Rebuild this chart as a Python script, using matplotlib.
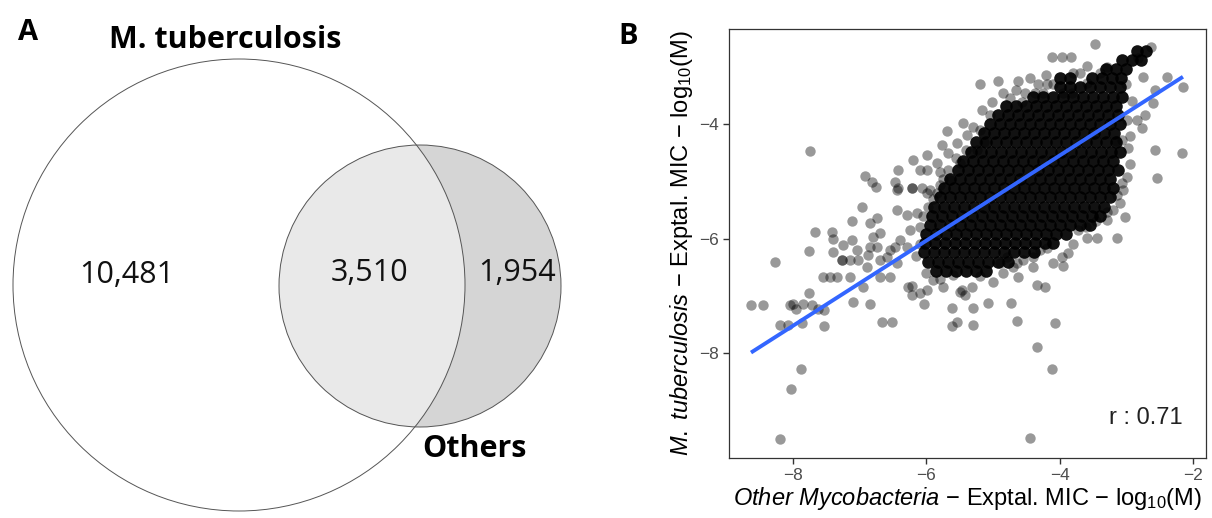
import matplotlib
matplotlib.use('Agg')
import matplotlib.pyplot as plt
from matplotlib.patches import Circle
import numpy as np

# panel A: venn counts
venn_counts = [10481, 3510, 1954]
venn_sets = ['M. tuberculosis', 'Others']

# panel B: scattered compounds (log10 MIC, other mycobacteria vs M. tuberculosis)
pts_x = [-8.63, -8.45, -8.04, -8.00, -7.95, -7.85, -7.72, -7.62, -7.53,
         -8.19, -8.07, -7.87, -7.53, -8.27, -7.76, -7.88, -8.03, -8.19, -7.74,
         -7.76, -7.67, -7.42, -7.40, -7.40, -7.27, -7.27, -7.15, -7.03, -6.88,
         -7.12, -6.97, -6.85, -6.74, -7.25, -7.12, -7.04, -6.80, -6.70, -6.85, -6.74,
         -7.55, -7.45, -7.34, -7.15, -6.70, -6.55, -6.95, -6.89,
         -7.10, -6.85, -6.67, -6.52,
         -6.55, -6.47, -6.29, -6.59, -6.70, -6.44,
         -6.28, -6.22, -6.10, -5.99, -5.90, -5.75, -5.60, -5.47, -5.42, -5.32, -6.04, -6.22,
         -5.62, -5.62, -5.54, -5.50, -5.30, -5.30, -5.08, -4.73, -4.64, -4.34, -4.22,
         -4.07, -4.34, -4.12, -4.45,
         -6.44, -6.29, -6.14, -5.98, -5.84, -5.99, -6.22, -6.44, -6.10, -6.25, -6.40,
         -5.20, -4.93, -5.02, -5.17, -5.45, -5.30, -5.69, -5.39, -5.54, -5.14, -5.77,
         -5.24, -5.68, -5.99, -6.20, -6.43, -6.10, -5.99, -5.84, -5.80, -5.68, -5.50,
         -6.92, -6.82, -6.76, -6.47, -6.43, -6.22, -6.07, -5.95, -5.80, -5.65,
         -3.47, -2.63, -4.12, -3.97, -3.83, -3.59, -3.70, -3.29, -2.83, -2.75, -2.39,
         -2.15, -4.63, -4.33, -4.19, -4.10, -4.52, -4.37, -4.25, -3.95, -3.82, -3.59,
         -4.57, -2.57, -2.60, -2.72, -2.84, -2.77, -2.99, -3.07, -2.98, -2.57, -2.17,
         -2.54, -2.99,
         -3.07, -3.14, -3.10, -3.02, -3.14, -3.29, -3.29, -3.44, -3.59, -3.73, -3.88,
         -3.97, -4.10, -3.95, -4.19, -4.30, -4.40, -4.55, -4.64, -4.70, -4.63, -4.79,
         -4.90, -3.16,
         -4.85, -4.75, -5.05, -5.20, -5.40, -5.55, -5.75, -5.90, -6.05, -6.10, -6.15,
         -6.00, -5.80, -5.20, -5.00, -4.85, -4.40, -3.80, -3.60, -3.45, -3.20, -3.05,
         -2.95, -2.95, -2.92, -3.00, -3.40, -3.80, -4.20, -4.45, -4.65]
pts_y = [-7.16, -7.16, -7.16, -7.14, -7.22, -7.14, -7.16, -7.22, -7.25,
         -7.50, -7.50, -7.47, -7.53, -6.41, -6.95, -8.28, -8.62, -9.50, -4.47,
         -6.22, -5.88, -5.88, -6.01, -6.23, -6.37, -6.37, -6.37, -6.37, -6.29,
         -5.69, -5.45, -5.73, -5.64, -6.11, -6.02, -6.20, -5.97, -5.90, -6.15, -6.15,
         -6.67, -6.67, -6.67, -6.67, -6.67, -6.67, -6.84, -6.50,
         -7.11, -7.14, -7.46, -7.46,
         -6.20, -6.15, -6.15, -6.32, -6.37, -6.43,
         -6.84, -6.98, -6.95, -6.90, -6.72, -6.84, -6.64, -6.90, -6.98, -6.84, -7.14, -6.83,
         -7.21, -7.52, -7.46, -6.93, -7.21, -7.51, -7.12, -7.12, -7.44, -6.81, -6.84,
         -7.47, -7.89, -8.28, -9.48,
         -5.50, -5.59, -5.55, -5.45, -5.20, -5.20, -5.12, -5.15, -5.80, -5.85, -6.02,
         -3.30, -3.25, -3.62, -3.76, -3.98, -4.05, -4.12, -4.19, -4.33, -4.31, -4.37,
         -4.45, -4.51, -4.54, -4.63, -4.80, -4.80, -4.80, -4.68, -4.84, -4.80, -4.68,
         -4.91, -5.01, -5.10, -5.01, -5.12, -5.12, -5.12, -5.15, -5.06, -4.98,
         -2.60, -2.66, -2.83, -2.83, -2.83, -2.99, -3.11, -3.00, -2.85, -3.18, -3.18,
         -3.35, -3.25, -3.30, -3.30, -3.30, -3.46, -3.46, -3.46, -3.46, -3.46, -3.28,
         -3.62, -3.41, -3.63, -3.84, -3.93, -4.07, -3.93, -4.28, -4.42, -4.45, -4.51,
         -4.94, -4.92,
         -5.03, -5.24, -5.38, -5.62, -5.99, -5.54, -5.68, -5.99, -5.99, -5.85, -6.25,
         -6.32, -6.43, -6.48, -6.16, -6.20, -6.32, -6.37, -6.43, -6.50, -6.67, -6.32,
         -6.43, -4.30,
         -3.45, -3.55, -3.85, -4.10, -4.45, -4.60, -4.95, -5.30, -5.60, -6.10, -6.30,
         -6.60, -6.70, -6.65, -6.75, -6.60, -6.50, -6.10, -5.80, -5.70, -5.50, -5.15,
         -4.70, -4.20, -3.60, -3.30, -3.10, -3.10, -3.15, -3.20, -3.40]

# dense core of the cloud, read row by row (y level, x positions)
core_y = [-2.72, -2.88, -3.04, -3.20, -3.36, -3.52, -3.68, -3.84, -4.00, -4.16,
          -4.32, -4.48, -4.64, -4.80, -4.96, -5.12, -5.28, -5.44, -5.60, -5.76,
          -5.92, -6.08, -6.24, -6.40, -6.56]
core_x = [
    [-2.84, -2.70],
    [-3.06, -2.92, -2.78],
    [-3.30, -3.15, -3.00],
    [-4.00, -3.85, -3.52, -3.37, -3.22, -3.08],
    [-4.00, -3.85, -3.70, -3.55, -3.40, -3.25, -3.10],
    [-4.40, -4.25, -4.10, -3.95, -3.80, -3.65, -3.50, -3.35, -3.20, -3.07],
    [-4.80, -4.65, -4.50, -4.35, -4.20, -4.05, -3.90, -3.75, -3.60, -3.45, -3.30, -3.15],
    [-4.93, -4.78, -4.63, -4.48, -4.33, -4.18, -4.03, -3.88, -3.73, -3.58, -3.43, -3.28, -3.13],
    [-5.05, -4.90, -4.75, -4.60, -4.45, -4.30, -4.15, -4.00, -3.85, -3.70, -3.55, -3.40, -3.25, -3.10],
    [-5.13, -4.98, -4.83, -4.68, -4.53, -4.38, -4.23, -4.08, -3.93, -3.78, -3.63, -3.48, -3.33, -3.18],
    [-5.25, -5.10, -4.95, -4.80, -4.65, -4.50, -4.35, -4.20, -4.05, -3.90, -3.75, -3.60, -3.45, -3.30, -3.15],
    [-5.33, -5.18, -5.03, -4.88, -4.73, -4.58, -4.43, -4.28, -4.13, -3.98, -3.83, -3.68, -3.53, -3.38, -3.23, -3.10],
    [-5.45, -5.30, -5.15, -5.00, -4.85, -4.70, -4.55, -4.40, -4.25, -4.10, -3.95, -3.80, -3.65, -3.50, -3.35, -3.20],
    [-5.53, -5.38, -5.23, -5.08, -4.93, -4.78, -4.63, -4.48, -4.33, -4.18, -4.03, -3.88, -3.73, -3.58, -3.43, -3.28, -3.13],
    [-5.65, -5.50, -5.35, -5.20, -5.05, -4.90, -4.75, -4.60, -4.45, -4.30, -4.15, -4.00, -3.85, -3.70, -3.55, -3.40, -3.25],
    [-5.73, -5.58, -5.43, -5.28, -5.13, -4.98, -4.83, -4.68, -4.53, -4.38, -4.23, -4.08, -3.93, -3.78, -3.63, -3.48, -3.33, -3.20],
    [-5.80, -5.65, -5.50, -5.35, -5.20, -5.05, -4.90, -4.75, -4.60, -4.45, -4.30, -4.15, -4.00, -3.85, -3.70, -3.55, -3.40, -3.25],
    [-5.88, -5.73, -5.58, -5.43, -5.28, -5.13, -4.98, -4.83, -4.68, -4.53, -4.38, -4.23, -4.08, -3.93, -3.78, -3.63, -3.48, -3.33],
    [-5.92, -5.77, -5.62, -5.47, -5.32, -5.17, -5.02, -4.87, -4.72, -4.57, -4.42, -4.27, -4.12, -3.97, -3.82, -3.67, -3.52, -3.40],
    [-5.95, -5.80, -5.65, -5.50, -5.35, -5.20, -5.05, -4.90, -4.75, -4.60, -4.45, -4.30, -4.15, -4.00, -3.85, -3.70, -3.55],
    [-6.00, -5.85, -5.70, -5.55, -5.40, -5.25, -5.10, -4.95, -4.80, -4.65, -4.50, -4.35, -4.20, -4.05, -3.90],
    [-6.02, -5.87, -5.72, -5.57, -5.42, -5.27, -5.12, -4.97, -4.82, -4.67, -4.52, -4.37, -4.22, -4.10],
    [-6.03, -5.88, -5.73, -5.58, -5.43, -5.28, -5.13, -4.98, -4.83, -4.68, -4.53, -4.38],
    [-5.98, -5.83, -5.68, -5.53, -5.38, -5.23, -5.08, -4.93, -4.78],
    [-5.85, -5.70, -5.55, -5.40, -5.25, -5.10],
]

fit_slope = 0.743
fit_intercept = -1.577
r_value = 0.71

x_ticks = [-8, -6, -4, -2]
y_ticks = [-8, -6, -4]


def main():
    plt.rcParams['mathtext.fontset'] = 'custom'
    plt.rcParams['mathtext.rm'] = 'Liberation Sans'
    plt.rcParams['mathtext.it'] = 'Liberation Sans:italic'

    fig = plt.figure(figsize=(12.12, 5.18), dpi=100)

    # ---- panel A ----
    ax_a = fig.add_axes([0, 0, 0.5, 1])
    ax_a.set_xlim(0, 606)
    ax_a.set_ylim(518, 0)
    ax_a.axis('off')

    big = Circle((239, 285), 226, facecolor='white', edgecolor='none')
    ax_a.add_patch(big)
    small = Circle((420, 286), 141, facecolor='#d5d5d5', edgecolor='none')
    ax_a.add_patch(small)
    inter = Circle((420, 286), 141, facecolor='#e9e9e9', edgecolor='none')
    ax_a.add_patch(inter)
    inter.set_clip_path(big)
    for c in [big, small]:
        ax_a.add_patch(Circle(c.center, c.radius, facecolor='none',
                              edgecolor='#555555', lw=0.7))

    num_font = dict(family='Open Sans', fontsize=22, color='#111111',
                    ha='center', va='center')
    ax_a.text(127, 275, f'{venn_counts[0]:,}', **num_font)
    ax_a.text(369, 273, f'{venn_counts[1]:,}', **num_font)
    ax_a.text(517, 273, f'{venn_counts[2]:,}', **num_font)
    ax_a.text(225, 40, venn_sets[0], family='Open Sans', fontweight='bold',
              fontsize=22, ha='center', va='center')
    ax_a.text(474, 449, venn_sets[1], family='Open Sans', fontweight='bold',
              fontsize=22, ha='center', va='center')
    ax_a.text(28, 33, 'A', family='Open Sans', fontweight='bold',
              fontsize=21, ha='center', va='center')

    # ---- panel B ----
    ax = fig.add_axes([0.6015, 0.1158, 0.3935, 0.8282])
    ax.scatter(pts_x, pts_y, s=56, color='black', alpha=0.4, linewidths=0)
    cx = [x for row in core_x for x in row]
    cy = [y for y, row in zip(core_y, core_x) for _ in row]
    ax.scatter(cx, cy, s=82, color='black', alpha=0.93, linewidths=0)

    all_x = np.array(pts_x + cx)
    lx = np.array([all_x.min(), all_x.max()])
    ax.plot(lx, fit_intercept + fit_slope * lx, color='#3366FF', lw=2.8,
            solid_capstyle='butt')

    ax.set_xlim(-8.96, -1.805)
    ax.set_ylim(-9.83, -2.34)
    ax.set_xticks(x_ticks)
    ax.set_yticks(y_ticks)
    ax.tick_params(length=4, width=1, color='#333333', labelcolor='#4d4d4d',
                   labelsize=12.5)
    for lab in ax.get_xticklabels() + ax.get_yticklabels():
        lab.set_family('Liberation Sans')
    for sp in ax.spines.values():
        sp.set_color('#333333')
        sp.set_linewidth(0.9)

    ax.set_xlabel(r'$\mathit{Other\ Mycobacteria}$ $-$ Exptal. MIC $-$ log$_{10}$(M)',
                  family='Liberation Sans', fontsize=17, labelpad=1)
    ax.set_ylabel(r'$\mathit{M.\ tuberculosis}$ $-$ Exptal. MIC $-$ log$_{10}$(M)',
                  family='Liberation Sans', fontsize=17, labelpad=3)
    ax.text(-2.16, -9.13, f'r : {r_value}', family='Liberation Sans',
            fontsize=17, ha='right', va='center', color='#222222')

    fig.text(628 / 1212, 1 - 36 / 518, 'B', family='Open Sans', fontweight='bold',
             fontsize=21, ha='center', va='center')

    fig.savefig('out.png', dpi=100)


if __name__ == '__main__':
    main()
